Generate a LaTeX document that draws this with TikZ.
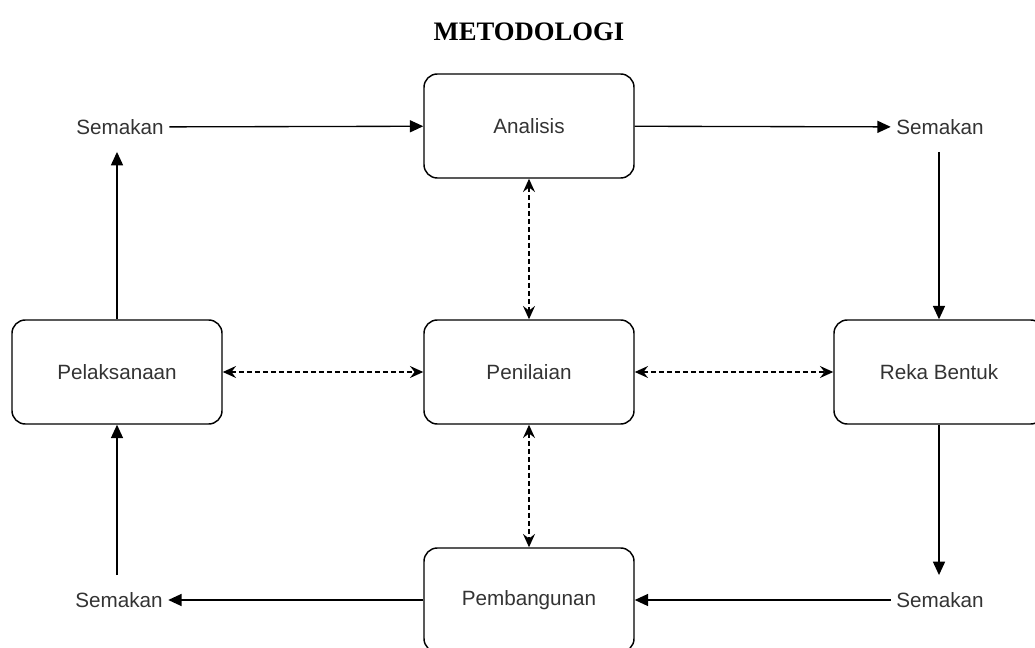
\documentclass[tikz,border=0pt]{standalone}
\usepackage{fontspec}
\setmainfont{Liberation Serif}
\setsansfont{Liberation Sans}
\usetikzlibrary{arrows.meta, positioning}

\tikzset{
  stagebox/.style={draw, line width=1.1pt, rounded corners=10pt, minimum width=157.5pt, minimum height=78pt, font=\sffamily\fontsize{15.5}{18}\selectfont, text={rgb,255:red,51;green,51;blue,51}},
  semaklabel/.style={inner xsep=4pt, minimum height=37pt, font=\sffamily\fontsize{15.5}{18}\selectfont, text={rgb,255:red,51;green,51;blue,51}},
  flow/.style={line width=1pt, -{Triangle[length=10pt, width=9pt]}},
  linkdash/.style={line width=1pt, dash pattern=on 3.5pt off 2.5pt, {Stealth[length=10pt, width=9pt, inset=3.5pt]}-{Stealth[length=10pt, width=9pt, inset=3.5pt]}}
}

\begin{document}
\begin{tikzpicture}[x=0.75pt,y=0.75pt,yscale=-1,xscale=1]
\useasboundingbox (0,0) rectangle (1035,648);

% Text Node
\node (title) at (529,32) {\fontsize{20}{24}\selectfont\bfseries METODOLOGI};

%Shape: Rounded Rect
\node [stagebox] (analisis) at (529,126) {Analisis};
\node [stagebox] (penilaian) at (529,372) {Penilaian};
\node [stagebox] (pelaksanaan) at (117,372) {Pelaksanaan};
\node [stagebox] (rekabentuk) at (939,372) {Reka Bentuk};
\node [stagebox] (pembangunan) at (529,600) {Pembangunan};

% Text Node
\node [semaklabel] (semakTL) at (120,127) {Semakan};
\node [semaklabel] (semakTR) at (940,127) {Semakan};
\node [semaklabel] (semakBL) at (119,600) {Semakan};
\node [semaklabel] (semakBR) at (940,600) {Semakan};

%Straight Lines
\draw [flow] (semakTL) -- (analisis);
\draw [flow] (analisis) -- (semakTR);
\draw [flow] (semakTR.south -| rekabentuk) -- (rekabentuk);
\draw [flow] (rekabentuk) -- (rekabentuk |- semakBR.north);
\draw [flow] (semakBR) -- (pembangunan);
\draw [flow] (pembangunan) -- (semakBL);
\draw [flow] (semakBL.north -| pelaksanaan) -- (pelaksanaan);
\draw [flow] (pelaksanaan) -- (pelaksanaan |- semakTL.south);

%Dashed Lines
\draw [linkdash] (analisis) -- (penilaian);
\draw [linkdash] (penilaian) -- (pembangunan);
\draw [linkdash] (pelaksanaan) -- (penilaian);
\draw [linkdash] (penilaian) -- (rekabentuk);

\end{tikzpicture}
\end{document}
